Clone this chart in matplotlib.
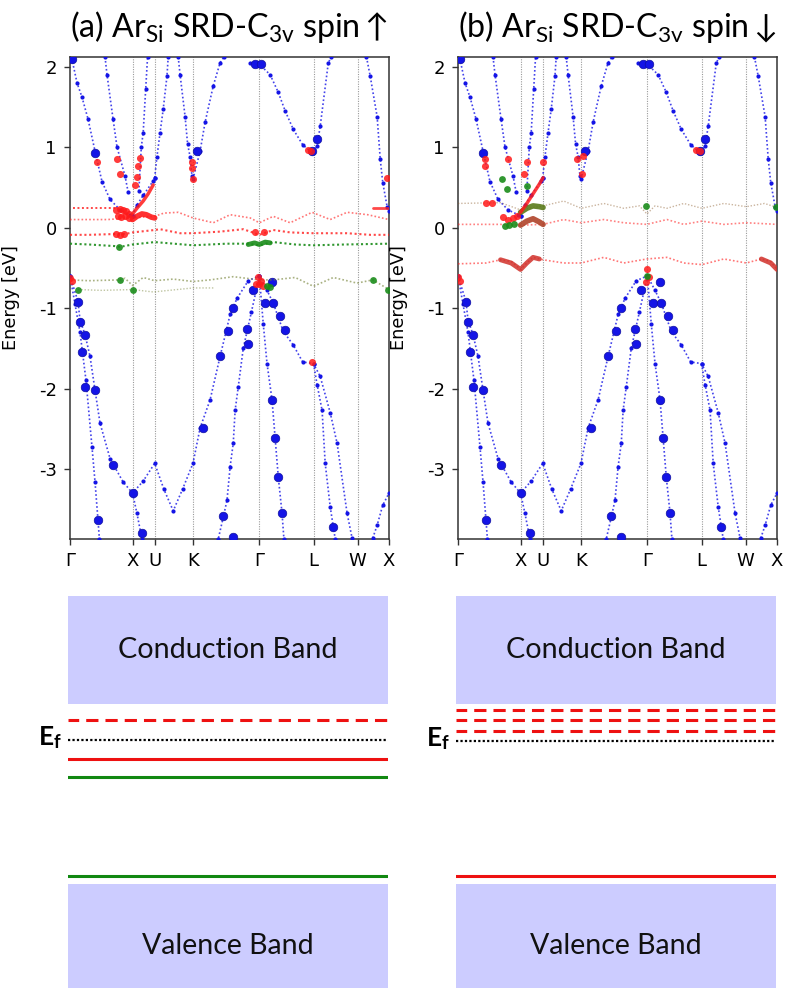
import matplotlib
matplotlib.use('Agg')
import matplotlib.pyplot as plt
from matplotlib.patches import Rectangle

plt.rcParams['mathtext.fontset'] = 'custom'
plt.rcParams['mathtext.rm'] = 'Lato'
plt.rcParams['mathtext.it'] = 'Lato:italic'
plt.rcParams['mathtext.bf'] = 'Lato:bold'
plt.rcParams['mathtext.fallback'] = 'cm'
plt.rcParams['axes.unicode_minus'] = False

# ---------------- data ----------------
KPATH = [0.0, 1.0, 1.354, 1.966, 3.027, 3.893, 4.600, 5.100]
KLABELS = ['Γ', 'X', 'U', 'K', 'Γ', 'L', 'W', 'X']
YTICKS = [-3, -2, -1, 0, 1, 2]
TITLES = [r"(a) Ar$_{\mathregular{Si}}$ SRD-C$_{\mathregular{3v}}$ spin$\uparrow$",
          r"(b) Ar$_{\mathregular{Si}}$ SRD-C$_{\mathregular{3v}}$ spin$\downarrow$"]

# host (blue) bands: k, E
VB1_K = [0.0, 0.128, 0.16, 0.24, 0.32, 0.40, 0.48, 0.64, 0.848, 1.0, 1.17, 1.354, 1.50, 1.65, 1.80, 1.966,
         2.08, 2.24, 2.40, 2.56, 2.67, 2.85, 3.027, 3.15, 3.25, 3.41, 3.57, 3.72, 3.893, 4.0, 4.16, 4.27, 4.43, 4.51]
VB1_E = [-0.6, -0.92, -1.15, -1.33, -1.6, -2.02, -2.43, -2.87, -3.16, -3.30, -3.15, -2.93, -3.25, -3.52, -3.25, -2.93,
         -2.49, -2.14, -1.6, -1.08, -0.88, -0.66, -0.6, -0.78, -0.94, -1.29, -1.46, -1.67, -1.69, -1.85, -2.3, -2.68, -3.55, -3.86]
VB1B_K = [4.84, 4.91, 5.0, 5.1]
VB1B_E = [-3.86, -3.7, -3.45, -3.3]
VB2_K = [0.0, 0.08, 0.16, 0.256, 0.352, 0.40, 0.448, 0.47]
VB2_E = [-0.6, -0.95, -1.3, -1.9, -2.73, -3.16, -3.64, -3.87]
VB3_K = [1.0, 1.07, 1.15]
VB3_E = [-3.3, -3.55, -3.87]
VB4_K = [3.027, 2.90, 2.77, 2.69, 2.64, 2.61, 2.56, 2.51, 2.45, 2.37]
VB4_E = [-0.6, -1.05, -1.5, -1.98, -2.27, -2.68, -2.97, -3.39, -3.6, -3.87]
VB5_K = [3.027, 3.09, 3.15, 3.23, 3.28, 3.33, 3.39, 3.42]
VB5_E = [-0.6, -1.2, -1.69, -2.14, -2.62, -3.1, -3.55, -3.87]
VB6_K = [3.893, 3.95, 4.03, 4.08, 4.16, 4.21, 4.24]
VB6_E = [-1.69, -1.95, -2.27, -2.93, -3.47, -3.72, -3.87]
CB1_K = [0.0, 0.032, 0.112, 0.192, 0.288, 0.40, 0.512, 0.64, 0.80, 0.96, 1.0]
CB1_E = [2.15, 2.09, 1.8, 1.62, 1.35, 0.95, 0.57, 0.35, 0.22, 0.16, 0.15]
CB2_K = [1.0, 1.07, 1.17, 1.33, 1.354]
CB2_E = [0.15, 0.28, 0.4, 0.58, 0.62]
CB3_K = [1.354, 1.39, 1.44, 1.49, 1.55, 1.57]
CB3_E = [0.62, 0.88, 1.18, 1.47, 1.88, 2.12]
CB4_K = [0.56, 0.592, 0.688, 0.752, 0.88, 0.93]
CB4_E = [2.12, 1.9, 1.35, 1.0, 0.64, 0.44]
CB5_K = [1.10, 1.14, 1.17, 1.21, 1.24]
CB5_E = [0.45, 1.0, 1.18, 1.72, 2.12]
CB6_K = [1.73, 1.76, 1.84, 1.88, 1.92, 1.95]
CB6_E = [2.12, 1.9, 1.38, 1.04, 0.88, 0.64]
CB7_K = [1.966, 2.08, 2.16, 2.29, 2.40, 2.46]
CB7_E = [0.6, 0.95, 1.31, 1.76, 2.05, 2.12]
CB8_K = [2.88, 3.027, 3.20, 3.33, 3.44, 3.57, 3.72, 3.87, 3.95, 4.0, 4.13, 4.18]
CB8_E = [2.05, 2.03, 1.9, 1.68, 1.45, 1.22, 1.03, 0.93, 1.01, 1.26, 2.05, 2.12]
CB9_K = [4.74, 4.80, 4.91, 4.96, 5.00, 5.07, 5.10]
CB9_E = [2.12, 1.88, 1.38, 0.85, 0.56, 0.26, 0.2]

BIG_BLUE_K = [0.40, 2.03, 0.13, 0.16, 0.24, 0.19, 0.24, 0.40, 0.45, 2.40, 2.53, 2.61, 2.83, 2.85, 2.93,
              3.12, 3.23, 3.25, 3.36, 3.44, 3.23, 3.28, 3.33, 3.39, 2.45, 2.61, 2.13, 0.69, 1.0, 1.15,
              4.21, 0.03, 2.96, 3.05, 3.87, 3.95]
BIG_BLUE_E = [0.93, 0.95, -0.92, -1.17, -1.33, -1.54, -1.98, -2.02, -3.64, -1.60, -1.29, -1.00, -1.26, -1.45, -0.77,
              -0.94, -0.68, -0.94, -1.10, -1.27, -2.14, -2.62, -3.10, -3.55, -3.58, -3.85, -2.49, -2.95, -3.30, -3.80,
              -3.72, 2.09, 2.03, 2.03, 0.95, 1.10]

# panel (a) defect states
A_R0_K = [0.05, 0.3, 0.6, 0.75]
A_R0_E = [0.24, 0.24, 0.24, 0.24]
A_R0B_K = [4.85, 5.1]
A_R0B_E = [0.24, 0.24]
A_R1_K = [0.0, 0.3, 0.6, 1.354, 1.5, 1.73, 1.966, 2.29, 2.56, 2.88, 3.027, 3.25, 3.52, 3.87, 4.16, 4.43, 4.76, 5.1]
A_R1_E = [0.10, 0.10, 0.10, 0.14, 0.18, 0.19, 0.12, 0.06, 0.16, 0.12, 0.06, 0.14, 0.06, 0.19, 0.10, 0.19, 0.16, 0.10]
A_RHUMP_K = [1.0, 1.07, 1.15, 1.22, 1.30, 1.354]
A_RHUMP_E = [0.10, 0.14, 0.17, 0.16, 0.13, 0.12]
A_RDIAG_K = [1.0, 1.07, 1.17, 1.25, 1.33]
A_RDIAG_E = [0.17, 0.24, 0.33, 0.42, 0.53]
A_R2_K = [0.0, 0.3, 0.72, 0.88, 1.0, 1.354, 1.44, 1.76, 1.966, 2.40, 2.77, 3.027, 3.25, 3.52, 3.893, 4.43, 4.8, 5.1]
A_R2_E = [-0.09, -0.09, -0.08, -0.08, -0.06, -0.03, -0.02, -0.07, -0.07, -0.05, -0.02, -0.09, -0.03, -0.06, -0.07, -0.07, -0.09, -0.09]
A_G1_K = [0.0, 0.3, 0.72, 0.8, 1.0, 1.354, 1.966, 2.5, 2.85, 3.027, 3.25, 3.6, 3.893, 4.4, 5.1]
A_G1_E = [-0.20, -0.21, -0.23, -0.24, -0.21, -0.18, -0.22, -0.20, -0.20, -0.22, -0.18, -0.21, -0.22, -0.21, -0.20]
A_GBLOB_K = [2.85, 2.95, 3.027, 3.12, 3.2]
A_GBLOB_E = [-0.21, -0.19, -0.21, -0.18, -0.19]
A_O1_K = [0.0, 0.3, 0.8, 0.88, 1.0, 1.17, 1.354, 1.65, 1.966, 2.24, 2.61, 3.027, 3.25, 3.6, 3.893, 4.21, 4.59, 4.84, 5.1]
A_O1_E = [-0.65, -0.66, -0.65, -0.63, -0.72, -0.62, -0.66, -0.64, -0.67, -0.65, -0.61, -0.65, -0.65, -0.62, -0.73, -0.62, -0.69, -0.65, -0.77]
A_O2_K = [0.13, 0.5, 1.0, 1.33, 1.966, 2.3]
A_O2_E = [-0.77, -0.78, -0.77, -0.80, -0.75, -0.75]
A_BIGRED_K = [0.74, 0.80, 0.85, 0.90, 0.95, 0.76, 0.82, 0.88, 0.94, 0.74, 0.80, 0.86,
              0.0, 0.03, 3.0, 3.05, 2.98, 3.08, 3.02,
              0.43, 0.75, 0.80, 1.12, 1.09, 1.07, 1.04, 1.95, 1.95, 1.97, 5.07, 3.85, 3.80, 3.87, 2.95, 3.1]
A_BIGRED_E = [0.22, 0.23, 0.22, 0.20, 0.17, 0.14, 0.13, 0.14, 0.12, -0.08, -0.09, -0.08,
              -0.63, -0.66, -0.62, -0.66, -0.70, -0.72, -0.70,
              0.81, 0.85, 0.66, 0.87, 0.76, 0.63, 0.53, 0.81, 0.74, 0.60, 0.62, 0.95, 0.97, -1.67, -0.05, -0.05]
A_BIGGREEN_K = [0.13, 0.8, 1.0, 4.85, 5.08, 3.15, 3.2, 0.78]
A_BIGGREEN_E = [-0.77, -0.65, -0.78, -0.65, -0.77, -0.72, -0.74, -0.24]

# panel (b) defect states
B_R1_K = [0.0, 0.68, 1.0, 1.36, 1.69, 1.97, 2.33, 2.65, 3.02, 3.34, 3.61, 3.90, 4.25, 4.61, 5.10]
B_R1_E = [0.04, 0.04, 0.03, 0.04, 0.10, 0.06, 0.10, 0.06, 0.04, 0.10, 0.04, 0.08, 0.04, 0.06, 0.04]
B_G1_K = [0.0, 0.68, 1.0, 1.36, 1.69, 1.97, 2.33, 2.65, 2.9, 3.02, 3.15, 3.34, 3.61, 3.90, 4.25, 4.61, 4.9, 5.10]
B_G1_E = [0.30, 0.31, 0.22, 0.27, 0.33, 0.24, 0.30, 0.24, 0.27, 0.17, 0.27, 0.24, 0.30, 0.24, 0.30, 0.26, 0.30, 0.25]
B_GARC_K = [1.0, 1.1, 1.2, 1.3, 1.36]
B_GARC_E = [0.19, 0.24, 0.27, 0.26, 0.25]
B_RARC_K = [1.0, 1.1, 1.2, 1.3, 1.36]
B_RARC_E = [0.03, 0.08, 0.11, 0.07, 0.04]
B_RDIAG_K = [1.0, 1.1, 1.2, 1.3, 1.36]
B_RDIAG_E = [0.19, 0.30, 0.42, 0.54, 0.62]
B_R3_K = [0.0, 0.45, 0.68, 0.85, 1.0, 1.1, 1.2, 1.36, 1.69, 1.97, 2.33, 2.65, 3.02, 3.34, 3.61, 3.90, 4.25, 4.61, 4.85, 5.0, 5.10]
B_R3_E = [-0.45, -0.44, -0.40, -0.42, -0.52, -0.44, -0.37, -0.40, -0.44, -0.44, -0.37, -0.44, -0.39, -0.37, -0.44, -0.46, -0.39, -0.44, -0.39, -0.42, -0.52]
B_R3ARC_K = [0.68, 0.85, 1.0, 1.1, 1.2, 1.3]
B_R3ARC_E = [-0.40, -0.44, -0.52, -0.44, -0.37, -0.39]
B_R3ARC2_K = [4.85, 5.0, 5.1]
B_R3ARC2_E = [-0.39, -0.44, -0.52]
B_BIGRED_K = [0.43, 0.43, 0.80, 1.10, 1.36, 1.06, 1.90, 2.00, 1.98, 0.45, 0.55, 0.72, 0.80, 0.88, 0.95,
              3.02, 3.05, 0.0, 0.03, 3.87, 3.80, 3.0]
B_BIGRED_E = [0.85, 0.77, 0.85, 0.81, 0.81, 0.66, 0.85, 0.89, 0.66, 0.31, 0.31, 0.13, 0.10, 0.12, 0.15,
              -0.52, -0.62, -0.62, -0.66, 0.95, 0.97, -0.68]
B_BIGGREEN_K = [0.75, 0.82, 0.90, 0.70, 0.78, 1.10, 3.02, 5.08, 3.0]
B_BIGGREEN_E = [0.02, 0.03, 0.05, 0.60, 0.48, 0.52, -0.60, 0.25, 0.27]

# schematic levels (units: pixels above the bottom of the schematic area)
CB_RECT = (288, 396)
VB_RECT = (4, 108)
A_DASHED_RED = [272]
A_EF = 252
A_SOLID_RED = [233]
A_SOLID_GREEN = [215, 116]
B_DASHED_RED = [282, 272, 261]
B_EF = 251
B_SOLID_RED = [116]
B_SOLID_GREEN = []

BLUE = '#1414e6'
RED = '#ff1a1a'
GREEN = '#1a8c1a'
OLIVE = '#6f7d2e'
LAV = '#ccccff'

W, H = 786, 992
fig = plt.figure(figsize=(W / 100, H / 100), dpi=100)


def fx(px):
    return px / W


def fy(py):
    return 1 - py / H


host = [(VB1_K, VB1_E), (VB1B_K, VB1B_E), (VB2_K, VB2_E), (VB3_K, VB3_E), (VB4_K, VB4_E),
        (VB5_K, VB5_E), (VB6_K, VB6_E), (CB1_K, CB1_E), (CB2_K, CB2_E), (CB3_K, CB3_E),
        (CB4_K, CB4_E), (CB5_K, CB5_E), (CB6_K, CB6_E), (CB7_K, CB7_E), (CB8_K, CB8_E), (CB9_K, CB9_E)]


def band_axes(left_px, title, defects, reds, greens):
    ax = fig.add_axes([fx(left_px), fy(539), fx(319), (539 - 57) / H])
    for k in KPATH[1:-1]:
        ax.axvline(k, color='#9a9a9a', lw=0.8, ls=(0, (1, 1.2)), zorder=0)
    for k, e in host:
        ax.plot(k, e, color=BLUE, lw=1.2, ls=(0, (1, 1.4)), alpha=0.8, zorder=2)
        ax.scatter(k, e, s=9, color=BLUE, zorder=3, linewidths=0)
    ax.scatter(BIG_BLUE_K, BIG_BLUE_E, s=38, color=BLUE, edgecolors='#1010a0', linewidths=0.5, zorder=4)
    for k, e, c, lw, ls, a in defects:
        ax.plot(k, e, color=c, lw=lw, ls=ls, alpha=a, zorder=5, solid_capstyle='round')
    ax.scatter(reds[0], reds[1], s=26, color=RED, alpha=0.85, linewidths=0, zorder=6)
    ax.scatter(greens[0], greens[1], s=24, color=GREEN, alpha=0.9, linewidths=0, zorder=6)
    ax.set_xlim(KPATH[0], KPATH[-1])
    ax.set_ylim(-3.87, 2.12)
    ax.set_xticks(KPATH)
    ax.set_xticklabels(KLABELS)
    ax.set_yticks(YTICKS)
    ax.set_yticklabels([str(v) for v in YTICKS])
    ax.tick_params(labelsize=13, length=4.5, width=1.0, pad=5, color='#333333')
    for s in ax.spines.values():
        s.set_linewidth(1.1)
        s.set_color('#333333')
    ax.set_ylabel('Energy [eV]', fontsize=12.8)
    ax.yaxis.set_label_coords(-0.157, 0.5)
    t = fig.text(fx(left_px + 159.5), fy(27), title, fontsize=21, family='Lato', ha='center', va='center')
    return ax, t


DOT = (0, (1, 1.3))
defA = [
    (A_R0_K, A_R0_E, RED, 1.4, DOT, 0.8),
    (A_R0B_K, A_R0B_E, RED, 2.0, '-', 0.8),
    (A_R1_K, A_R1_E, RED, 1.2, DOT, 0.6),
    (A_RHUMP_K, A_RHUMP_E, RED, 4.0, '-', 0.9),
    (A_RDIAG_K, A_RDIAG_E, RED, 2.5, '-', 0.85),
    (A_R2_K, A_R2_E, RED, 1.5, DOT, 0.8),
    (A_G1_K, A_G1_E, GREEN, 1.5, DOT, 0.9),
    (A_GBLOB_K, A_GBLOB_E, GREEN, 3.5, '-', 0.9),
    (A_O1_K, A_O1_E, OLIVE, 1.2, DOT, 0.6),
    (A_O2_K, A_O2_E, OLIVE, 1.0, DOT, 0.45),
]
defB = [
    (B_R1_K, B_R1_E, RED, 1.2, DOT, 0.55),
    (B_G1_K, B_G1_E, '#8a5a2a', 1.0, DOT, 0.45),
    (B_GARC_K, B_GARC_E, '#5a7a1a', 4.0, '-', 0.9),
    (B_RARC_K, B_RARC_E, '#b0442a', 4.0, '-', 0.9),
    (B_RDIAG_K, B_RDIAG_E, RED, 2.5, '-', 0.85),
    (B_R3_K, B_R3_E, RED, 1.2, DOT, 0.6),
    (B_R3ARC_K, B_R3ARC_E, '#d0302a', 3.5, '-', 0.85),
    (B_R3ARC2_K, B_R3ARC2_E, '#d0302a', 3.5, '-', 0.85),
]

axA, tA = band_axes(70, TITLES[0], defA, (A_BIGRED_K, A_BIGRED_E), (A_BIGGREEN_K, A_BIGGREEN_E))
axB, tB = band_axes(458, TITLES[1], defB, (B_BIGRED_K, B_BIGRED_E), (B_BIGGREEN_K, B_BIGGREEN_E))


def schematic(left_px, dashed, ef, solid_red, solid_green):
    ax = fig.add_axes([fx(left_px), 0, fx(320), 400 / H])
    ax.set_xlim(0, 1)
    ax.set_ylim(0, 400)
    ax.axis('off')
    ax.add_patch(Rectangle((0, CB_RECT[0]), 1, CB_RECT[1] - CB_RECT[0], color=LAV, lw=0))
    ax.add_patch(Rectangle((0, VB_RECT[0]), 1, VB_RECT[1] - VB_RECT[0], color=LAV, lw=0))
    tc = ax.text(0.5, (CB_RECT[0] + CB_RECT[1]) / 2, 'Conduction Band', family='Lato', fontsize=20,
                 ha='center', va='center', color='#111111')
    tv = ax.text(0.5, (VB_RECT[0] + VB_RECT[1]) / 2 - 10, 'Valence Band', family='Lato', fontsize=20,
                 ha='center', va='center', color='#111111')
    for y in dashed:
        ax.plot([0, 1], [y, y], color='#ee1111', lw=2.2, ls=(0.5, (4, 2.3)))
    for y in solid_red:
        ax.plot([0, 1], [y, y], color='#ee1111', lw=2.2)
    for y in solid_green:
        ax.plot([0, 1], [y, y], color='#118811', lw=2.2)
    ax.plot([0, 1], [ef, ef], color='black', lw=1.6, ls=(0, (1, 1)))
    ax.text(-0.02, ef - 5, r'E$_{\mathregular{f}}$', family='Lato', weight='bold', fontsize=19,
            ha='right', va='baseline', clip_on=False)
    return tc, tv


tcA, tvA = schematic(68, A_DASHED_RED, A_EF, A_SOLID_RED, A_SOLID_GREEN)
tcB, tvB = schematic(456, B_DASHED_RED, B_EF, B_SOLID_RED, B_SOLID_GREEN)

renderer = fig.canvas.get_renderer()


def fit(t, target):
    for _ in range(3):
        w = t.get_window_extent(renderer).width
        t.set_fontsize(t.get_fontsize() * target / w)


fit(tA, 319)
fit(tB, 319)
for t in (tcA, tcB):
    fit(t, 220)
for t in (tvA, tvB):
    fit(t, 172)

fig.savefig('out.png', dpi=100)
